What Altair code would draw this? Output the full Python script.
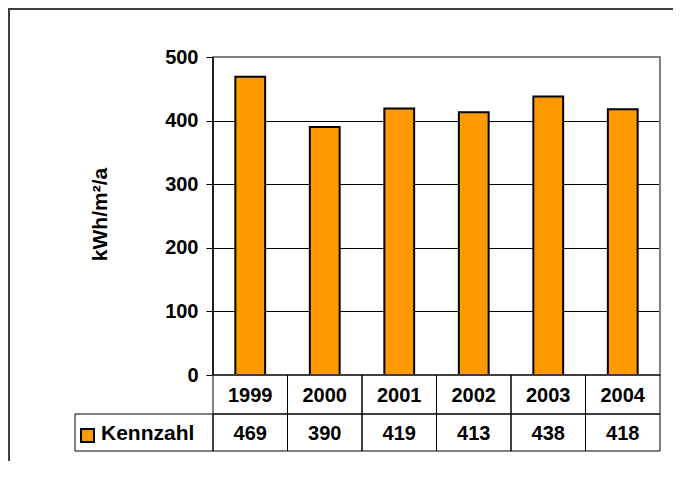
import altair as alt
import pandas as pd

years = ["1999", "2000", "2001", "2002", "2003", "2004"]
values = [469, 390, 419, 413, 438, 418]
series_name = "Kennzahl"
y_title = "kWh/m²/a"
y_ticks = [0, 100, 200, 300, 400, 500]

df = pd.DataFrame({"year": years, "value": values})
one = pd.DataFrame({"k": [0]})

FONT = "Liberation Sans"
ORANGE = "#FF9900"
W, H = 447, 318
ROW1_TOP, ROW1_BOT, ROW2_BOT = H, H + 39, H + 76

xscale = alt.Scale(domain=years, paddingInner=0, paddingOuter=0)
X = alt.X("year:N", scale=xscale, axis=None)

base = alt.Chart(df)

bars = base.mark_bar(
    fill=ORANGE, stroke="black", strokeWidth=2, width={"band": 0.4}
).encode(
    x=X,
    y=alt.Y(
        "value:Q",
        scale=alt.Scale(domain=[0, 500], nice=False),
        axis=alt.Axis(
            values=y_ticks,
            domain=False,
            grid=True,
            gridColor="black",
            gridWidth=1,
            ticks=True,
            tickColor="black",
            tickSize=7,
            labelFont=FONT,
            labelFontSize=20,
            labelFontWeight="bold",
            labelColor="black",
            labelPadding=8,
            title=y_title,
            titleFont=FONT,
            titleFontSize=21,
            titleFontWeight="bold",
            titleColor="black",
            titleX=-113,
            titleY=157,
            titleAngle=-90,
            titleAlign="center",
            titleBaseline="middle",
        ),
    ),
)

frame = alt.Chart(one).mark_rect(filled=False, stroke="#808080", strokeWidth=2).encode(
    x=alt.value(0), x2=alt.value(W), y=alt.value(0), y2=alt.value(H)
)

left_axis = alt.Chart(one).mark_rule(color="black", strokeWidth=1.5).encode(
    x=alt.value(0), y=alt.value(0), y2=alt.value(H)
)

outer_top = alt.Chart(one).mark_rule(color="#404040", strokeWidth=2).encode(
    x=alt.value(-205), x2=alt.value(W + 30), y=alt.value(-48)
)
outer_left = alt.Chart(one).mark_rule(color="#404040", strokeWidth=2).encode(
    x=alt.value(-204), y=alt.value(-49), y2=alt.value(H + 120)
)

row1 = base.mark_rect(filled=False, stroke="black", strokeWidth=1).encode(
    x=X, y=alt.value(ROW1_TOP), y2=alt.value(ROW1_BOT)
)
row2 = base.mark_rect(filled=False, stroke="black", strokeWidth=1).encode(
    x=X, y=alt.value(ROW1_BOT), y2=alt.value(ROW2_BOT)
)
label_cell = alt.Chart(one).mark_rect(filled=False, stroke="black", strokeWidth=1).encode(
    x=alt.value(-138), x2=alt.value(0), y=alt.value(ROW1_BOT), y2=alt.value(ROW2_BOT)
)

year_text = base.mark_text(
    font=FONT, fontSize=20, fontWeight="bold", color="black", baseline="middle"
).encode(x=X, y=alt.value((ROW1_TOP + ROW1_BOT) / 2 + 1), text="year:N")

val_text = base.mark_text(
    font=FONT, fontSize=20, fontWeight="bold", color="black", baseline="middle"
).encode(x=X, y=alt.value((ROW1_BOT + ROW2_BOT) / 2 + 1), text="value:Q")

legend_sq = alt.Chart(one).mark_rect(fill=ORANGE, stroke="black", strokeWidth=2).encode(
    x=alt.value(-132), x2=alt.value(-119), y=alt.value(372), y2=alt.value(385)
)
legend_txt = alt.Chart(pd.DataFrame({"t": [series_name]})).mark_text(
    font=FONT, fontSize=21, fontWeight="bold", color="black", align="left", baseline="middle"
).encode(x=alt.value(-112), y=alt.value(377), text="t:N")

chart = alt.layer(
    outer_top, outer_left, bars, frame, left_axis, row1, row2, label_cell,
    year_text, val_text, legend_sq, legend_txt
).properties(
    width=W,
    height=H,
    autosize=alt.AutoSizeParams(type="none"),
    padding={"left": 205, "top": 49, "right": 13, "bottom": 86},
    background="white",
).configure_view(stroke=None)

chart.save("out.html", embed_options={"renderer": "svg", "actions": False})
